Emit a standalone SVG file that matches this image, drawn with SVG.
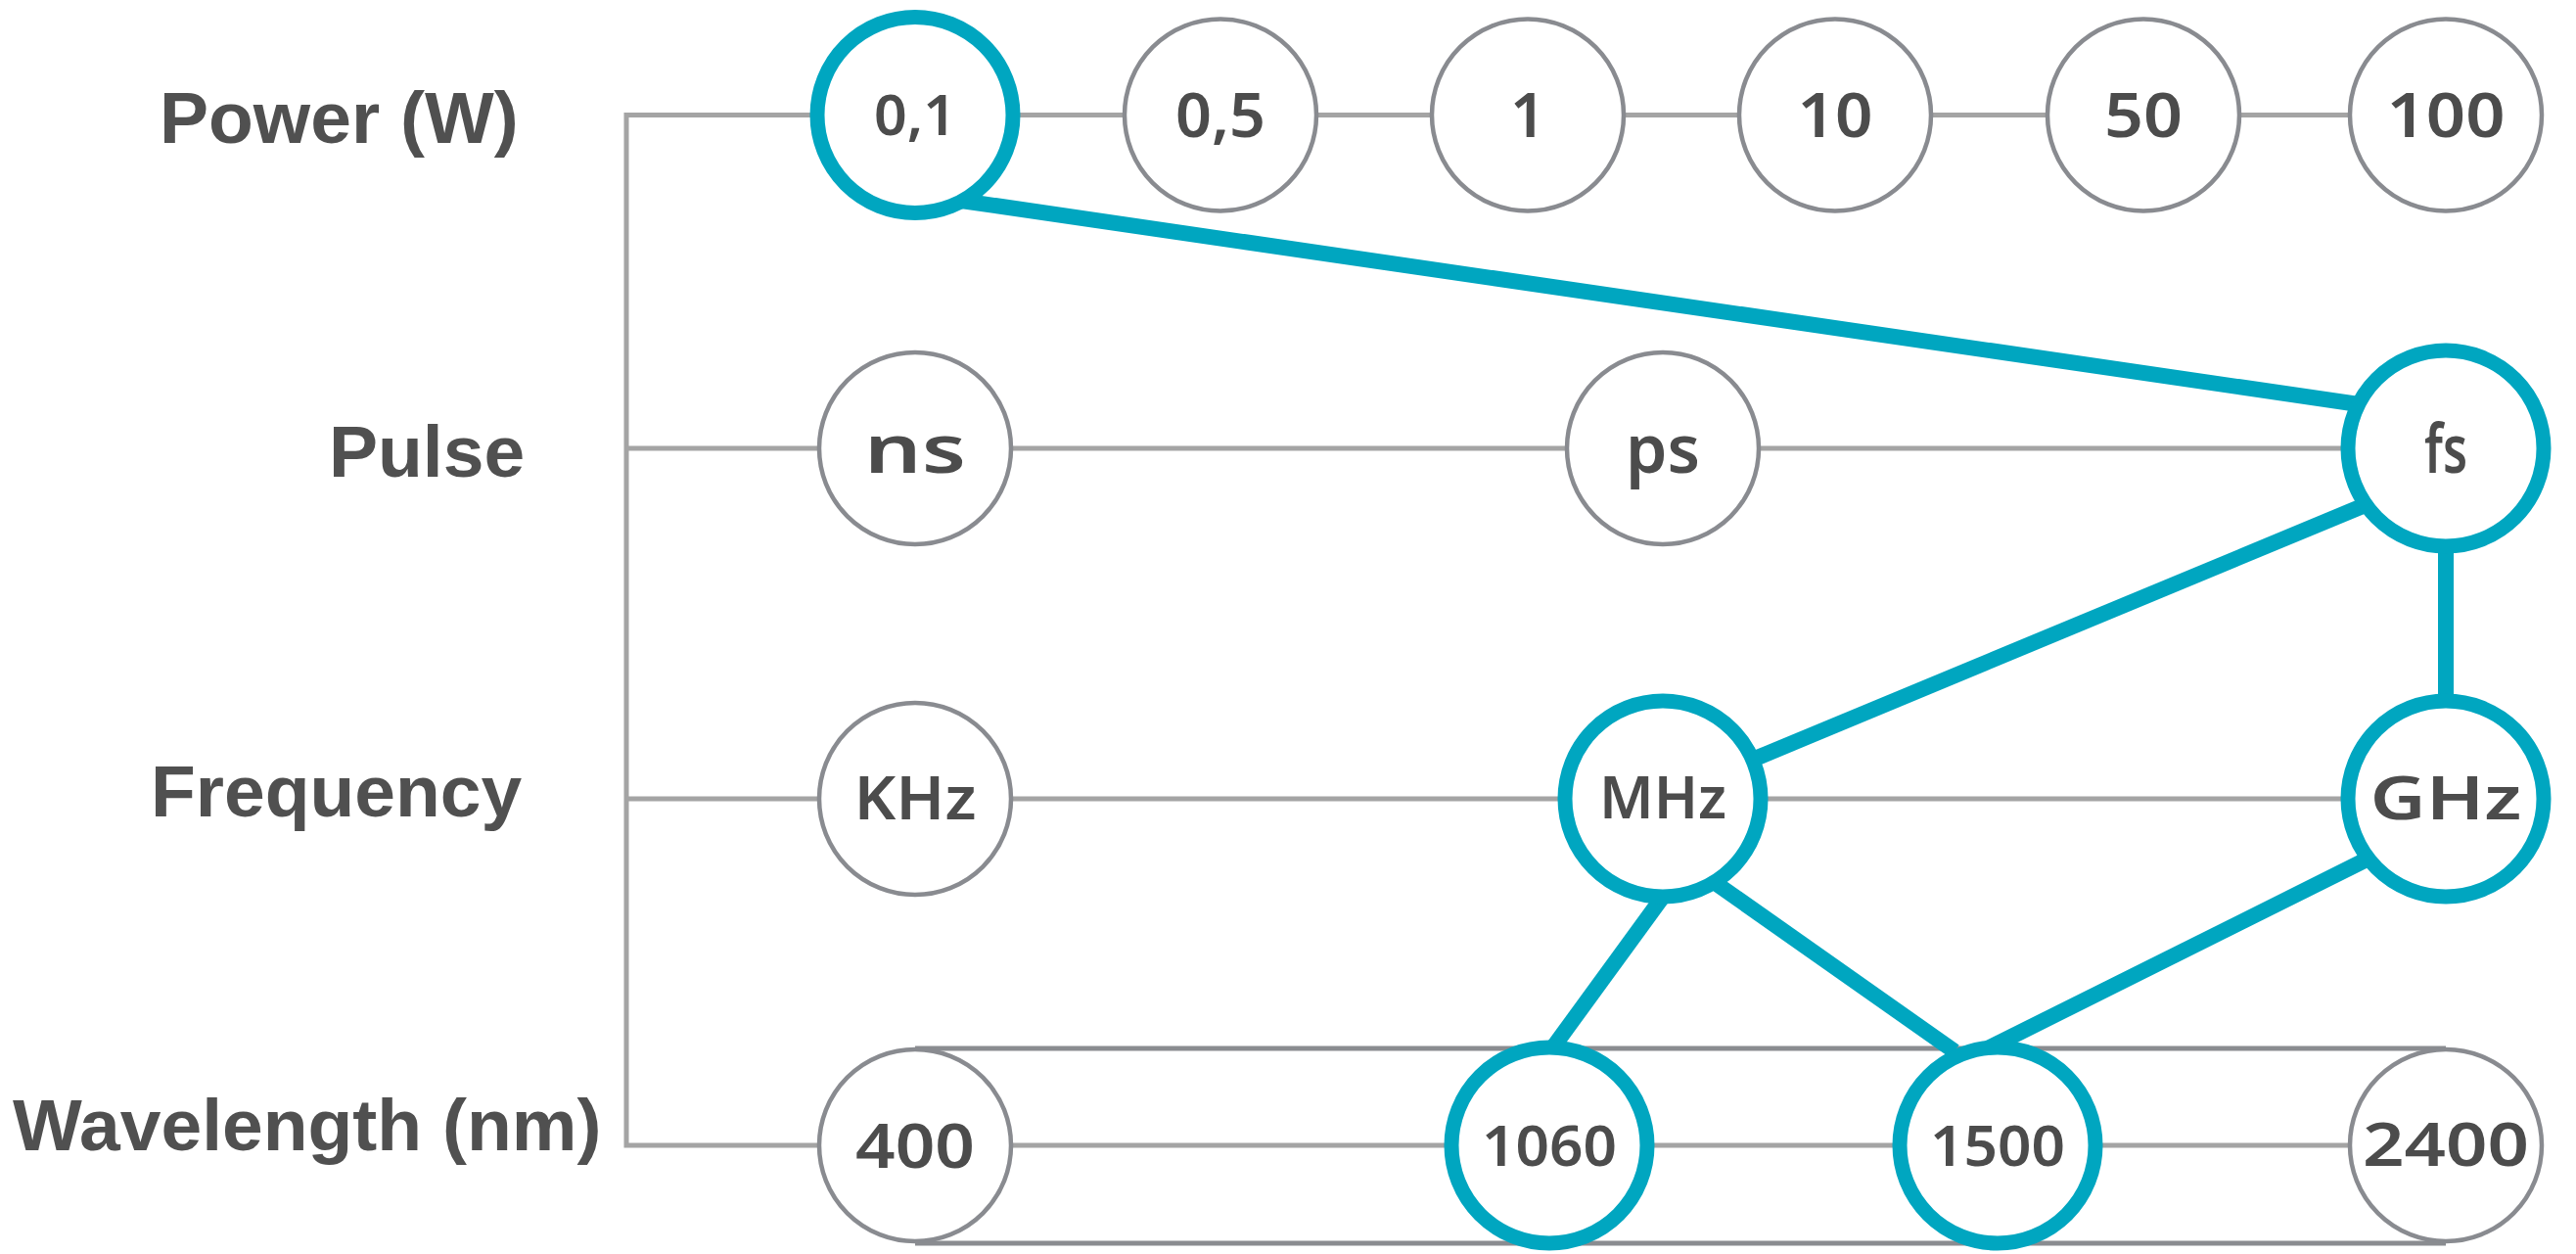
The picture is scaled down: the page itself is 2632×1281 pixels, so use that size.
<svg xmlns="http://www.w3.org/2000/svg" width="2632" height="1281" viewBox="0 0 2632 1281">
  <style>
    .axis { fill: none; stroke: #a4a4a4; stroke-width: 5; }
    .rail { fill: none; stroke: #8a8c90; stroke-width: 5; }
    .node { fill: #ffffff; stroke: #898b90; stroke-width: 4.5; }
    .node.on { stroke: #00a6c0; stroke-width: 15; }
    .link { fill: none; stroke: #00a6c0; stroke-width: 16; }
    .cat { font-family: "Liberation Sans", Arial, sans-serif; font-weight: bold; font-size: 75px; fill: #505050; }
    .val { font-family: "Noto Sans", "DejaVu Sans", sans-serif; font-weight: 600; fill: #4c4c4c; text-anchor: middle; }
  </style>

  <!-- row titles -->
  <g id="titles">
    <text class="cat" x="163" y="146">Power (W)</text>
    <text class="cat" x="336" y="487">Pulse</text>
    <text class="cat" x="154" y="834">Frequency</text>
    <text class="cat" x="13" y="1175">Wavelength (nm)</text>
  </g>

  <!-- bracket and row axes -->
  <g id="axes">
    <polyline class="axis" points="935,117.5 640,117.5 640,1170 935,1170"/>
    <line class="axis" x1="640" y1="458" x2="2499" y2="458"/>
    <line class="axis" x1="640" y1="816" x2="2499" y2="816"/>
    <line class="axis" x1="935" y1="117.5" x2="2499" y2="117.5"/>
    <line class="axis" x1="935" y1="1170" x2="2499" y2="1170"/>
    <line class="rail" x1="935" y1="1071" x2="2499" y2="1071"/>
    <line class="rail" x1="935" y1="1270" x2="2499" y2="1270"/>
  </g>

  <!-- selected path -->
  <g id="connectors">
    <line class="link" x1="982" y1="205" x2="2410" y2="413"/>
    <line class="link" x1="2414" y1="517" x2="1793" y2="775"/>
    <line class="link" x1="2499" y1="559" x2="2499" y2="715"/>
    <line class="link" x1="1699" y1="916" x2="1586" y2="1071"/>
    <line class="link" x1="1754" y1="903" x2="1997" y2="1074"/>
    <line class="link" x1="2422" y1="876" x2="2031" y2="1071"/>
  </g>

  <!-- Power (W) -->
  <g id="p01"><circle class="node on" cx="935" cy="117.5" r="100"/><text class="val" x="935" y="138" font-size="58" textLength="84" lengthAdjust="spacingAndGlyphs">0,1</text></g>
  <g id="p05"><circle class="node" cx="1247" cy="117.5" r="98"/><text class="val" x="1247" y="140" font-size="64" textLength="92" lengthAdjust="spacingAndGlyphs">0,5</text></g>
  <g id="p1"><circle class="node" cx="1561" cy="117.5" r="98"/><text class="val" x="1561" y="140" font-size="63">1</text></g>
  <g id="p10"><circle class="node" cx="1875" cy="117.5" r="98"/><text class="val" x="1875" y="140" font-size="63" textLength="77" lengthAdjust="spacingAndGlyphs">10</text></g>
  <g id="p50"><circle class="node" cx="2190" cy="117.5" r="98"/><text class="val" x="2190" y="140" font-size="63" textLength="80" lengthAdjust="spacingAndGlyphs">50</text></g>
  <g id="p100"><circle class="node" cx="2499" cy="117.5" r="98"/><text class="val" x="2499" y="140" font-size="63" textLength="121" lengthAdjust="spacingAndGlyphs">100</text></g>

  <!-- Pulse -->
  <g id="ns"><circle class="node" cx="935" cy="458" r="98"/><text class="val" x="935" y="483" font-size="68" textLength="104" lengthAdjust="spacingAndGlyphs">ns</text></g>
  <g id="ps"><circle class="node" cx="1699" cy="458" r="98"/><text class="val" x="1699" y="483" font-size="68" textLength="76" lengthAdjust="spacingAndGlyphs">ps</text></g>
  <g id="fs"><circle class="node on" cx="2499" cy="458" r="100"/><text class="val" x="2499" y="483" font-size="68" textLength="44" lengthAdjust="spacingAndGlyphs">fs</text></g>

  <!-- Frequency -->
  <g id="khz"><circle class="node" cx="935" cy="816" r="98"/><text class="val" x="935" y="837" font-size="62" textLength="125" lengthAdjust="spacingAndGlyphs">KHz</text></g>
  <g id="mhz"><circle class="node on" cx="1699" cy="816" r="100"/><text class="val" x="1699" y="836" font-size="60" textLength="130" lengthAdjust="spacingAndGlyphs">MHz</text></g>
  <g id="ghz"><circle class="node on" cx="2499" cy="816" r="100"/><text class="val" x="2499" y="837" font-size="62" textLength="155" lengthAdjust="spacingAndGlyphs">GHz</text></g>

  <!-- Wavelength (nm) -->
  <g id="w400"><circle class="node" cx="935" cy="1170" r="98"/><text class="val" x="935" y="1193" font-size="64" textLength="122" lengthAdjust="spacingAndGlyphs">400</text></g>
  <g id="w1060"><circle class="node on" cx="1583" cy="1170" r="100"/><text class="val" x="1583" y="1191" font-size="58" textLength="138" lengthAdjust="spacingAndGlyphs">1060</text></g>
  <g id="w1500"><circle class="node on" cx="2041" cy="1170" r="100"/><text class="val" x="2041" y="1191" font-size="58" textLength="138" lengthAdjust="spacingAndGlyphs">1500</text></g>
  <g id="w2400"><circle class="node" cx="2499" cy="1170" r="98"/><text class="val" x="2499" y="1191" font-size="62" textLength="170" lengthAdjust="spacingAndGlyphs">2400</text></g>
</svg>
